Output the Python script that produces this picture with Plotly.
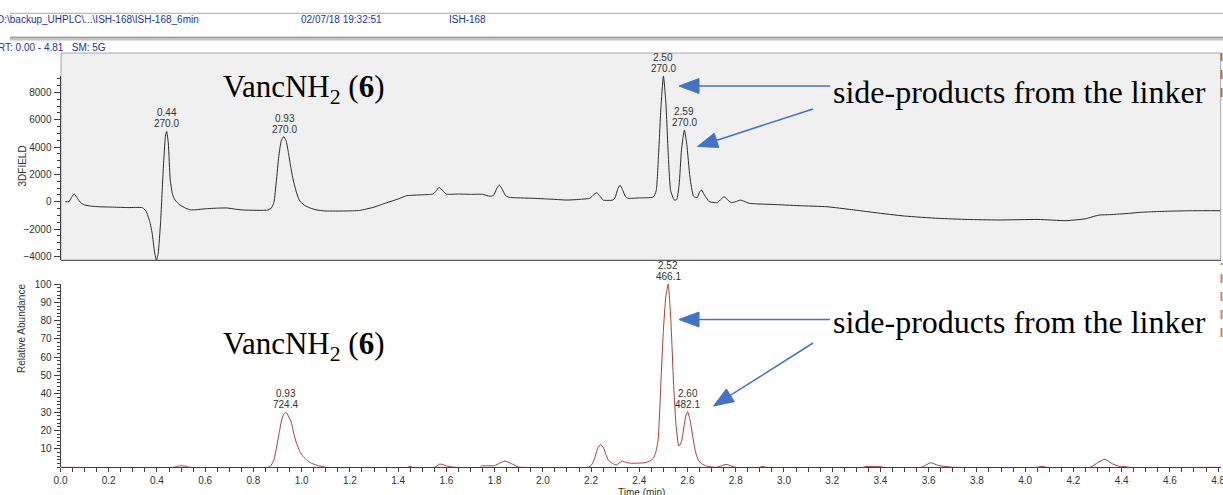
import math
import plotly.graph_objects as go

W, H = 1223, 495

# ---------------- data ----------------
top_time = [0.02, 0.035, 0.045, 0.057, 0.07, 0.085, 0.10, 0.13, 0.16, 0.22, 0.28, 0.34,
            0.355, 0.37, 0.38, 0.39, 0.398, 0.405, 0.415, 0.425, 0.435, 0.44, 0.447, 0.455,
            0.465, 0.475, 0.495, 0.52, 0.54, 0.56, 0.60, 0.65, 0.69, 0.73, 0.76, 0.86,
            0.875, 0.885, 0.895, 0.905, 0.915, 0.925, 0.935, 0.945, 0.955, 0.965, 0.978,
            0.99, 1.01, 1.035, 1.06, 1.10, 1.18, 1.24, 1.30, 1.34, 1.40, 1.435, 1.47,
            1.53, 1.545, 1.558, 1.57, 1.585, 1.60, 1.65, 1.70, 1.75, 1.78, 1.795, 1.81,
            1.82, 1.832, 1.845, 1.86, 1.96, 2.05, 2.10, 2.16, 2.195, 2.21, 2.223, 2.237,
            2.25, 2.29, 2.30, 2.31, 2.32, 2.33, 2.342, 2.354, 2.40, 2.458, 2.47, 2.48,
            2.49, 2.50, 2.51, 2.52, 2.53, 2.545, 2.555, 2.565, 2.575, 2.587, 2.597, 2.61,
            2.625, 2.64, 2.65, 2.658, 2.67, 2.69, 2.71, 2.724, 2.74, 2.752, 2.765, 2.782,
            2.80, 2.818, 2.835, 2.856, 2.95, 3.062, 3.178, 3.28, 3.377, 3.50, 3.64, 3.76,
            3.888, 4.053, 4.17, 4.25, 4.29, 4.31, 4.35, 4.434, 4.476, 4.55, 4.632, 4.70,
            4.81]
top_signal = [0, 0, 300, 560, 250, -100, -240, -330, -370, -400, -430, -440,
              -700, -1450, -2300, -3700, -4300, -3800, -1500, 2000, 4800, 5150, 4300, 1600,
              500, 120, -240, -480, -600, -590, -520, -470, -460, -560, -610, -610,
              -450, -50, 1500, 3300, 4450, 4770, 4500, 3600, 2500, 1590, 700,
              120, -250, -460, -600, -680, -680, -640, -400, -150, 200, 440, 480,
              530, 560, 800, 1050, 800, 560, 560, 540, 540, 400, 450, 1000,
              1220, 900, 450, 320, 250, 170, 120, 180, 250, 500, 660, 400,
              120, 120, 300, 900, 1200, 900, 400, 250, 280, 340, 800, 3500,
              7000, 9200, 7300, 3500, 800, 120, 150, 1200, 3800, 5250, 4200, 1800,
              400, 300, 700, 860, 500, 0, -60, -70, 200, 370, 150, -70,
              0, 120, 30, -120, -200, -290, -370, -580, -800, -1050, -1220, -1300,
              -1340, -1300, -1390, -1250, -1050, -975, -950, -850, -780, -720, -680, -660,
              -660]

bottom_time = [0.0, 0.47, 0.485, 0.50, 0.52, 0.535, 0.86, 0.87, 0.885, 0.896, 0.907, 0.917,
               0.926, 0.935, 0.945, 0.958, 0.968, 0.979, 0.993, 1.007, 1.025, 1.041, 1.065,
               1.09, 1.10, 1.44, 1.449, 1.458, 1.55, 1.573, 1.60, 1.62, 1.64, 1.74, 1.746,
               1.80, 1.82, 1.843, 1.87, 1.898, 1.91, 2.188, 2.202, 2.215, 2.228, 2.24, 2.252,
               2.262, 2.271, 2.29, 2.306, 2.318, 2.331, 2.345, 2.368, 2.40, 2.424, 2.445,
               2.458, 2.468, 2.478, 2.485, 2.49, 2.50, 2.51, 2.52, 2.53, 2.536, 2.542, 2.553,
               2.564, 2.575, 2.585, 2.593, 2.60, 2.61, 2.624, 2.634, 2.644, 2.66, 2.679, 2.70,
               2.72, 2.74, 2.76, 2.78, 2.80, 2.90, 2.91, 2.925, 3.33, 3.34, 3.40, 3.41, 3.57,
               3.608, 3.64, 3.68, 3.70, 4.05, 4.07, 4.09, 4.27, 4.30, 4.33, 4.36, 4.39, 4.41,
               4.43, 4.81]
bottom_abund = [0, 0, 0.6, 0.8, 0.6, 0, 0, 0.5, 4, 11, 19, 25.8,
                29, 30, 28, 24, 18, 13, 8.5, 5.8, 3.5, 2.2, 1,
                0.3, 0, 0, 0.5, 0, 0, 1.8, 0.8, 0.3, 0, 0, 0.7,
                0.9, 2.2, 3.4, 2, 0.2, 0, 0, 1.3, 5, 10.5, 12.5, 10.5,
                7, 4, 2, 1.3, 2.5, 3.4, 2.6, 2.2, 2.3, 2.5, 3.5,
                4.9, 8, 14.9, 32, 47.6, 75, 93, 100, 82, 65, 46, 22,
                11.6, 14, 22, 28, 30.3, 26, 14.9, 8, 4, 1.8, 0.7, 0.2,
                0, 0.8, 1.6, 0.8, 0, 0, 0.6, 0, 0, 0.4, 0.4, 0, 0,
                2.5, 1, 0.3, 0, 0, 0.5, 0, 0, 2.5, 4.4, 2, 0.5, 0.5,
                0, 0]

top_peak_rt = [0.44, 0.93, 2.50, 2.587]
top_peak_val = [5150, 4770, 9200, 5250]
top_peak_rt_lbl = ["0.44", "0.93", "2.50", "2.59"]
top_peak_mz_lbl = ["270.0", "270.0", "270.0", "270.0"]

bot_peak_rt = [0.935, 2.52, 2.60]
bot_peak_val = [30.0, 100.0, 30.3]
bot_peak_rt_lbl = ["0.93", "2.52", "2.60"]
bot_peak_mz_lbl = ["724.4", "466.1", "482.1"]

x_ticks = [0.0, 0.2, 0.4, 0.6, 0.8, 1.0, 1.2, 1.4, 1.6, 1.8, 2.0, 2.2, 2.4, 2.6, 2.8,
           3.0, 3.2, 3.4, 3.6, 3.8, 4.0, 4.2, 4.4, 4.6, 4.8]
top_y_ticks = [-4000, -2000, 0, 2000, 4000, 6000, 8000]
top_y_minor = [-4000 + 500 * i for i in range(27)]
bot_y_ticks = [10, 20, 30, 40, 50, 60, 70, 80, 90, 100]
bot_y_minor = [2 * i for i in range(51)]

# ---------------- layout geometry ----------------
def fx(x):
    return x / W

def fy(y):
    return 1 - y / H

X0, X1 = 60.5, 1220.5
TOP_Y0, TOP_Y1 = 53.0, 260.0
BOT_Y0, BOT_Y1 = 262.0, 467.3
top_range = [(201.7 - TOP_Y1) * 2000 / 27.3, (201.7 - TOP_Y0) * 2000 / 27.3]
bot_range = [0, (BOT_Y1 - BOT_Y0) / 1.833]

AX = "#404040"
TXT = "#333333"
BLUE = "#4472C4"
HDR = "#22359b"

fig = go.Figure()
fig.add_trace(go.Scatter(x=top_time, y=top_signal, mode="lines", xaxis="x2", yaxis="y2",
                         line=dict(color="#2b2b2b", width=1, shape="spline", smoothing=0.5),
                         hoverinfo="skip", showlegend=False))
fig.add_trace(go.Scatter(x=bottom_time, y=bottom_abund, mode="lines", xaxis="x", yaxis="y",
                         line=dict(color="#a83c3c", width=1, shape="spline", smoothing=0.5),
                         hoverinfo="skip", showlegend=False))

tickfont = dict(family="Liberation Sans, Arial", size=10, color=TXT)

fig.update_layout(
    width=W, height=H,
    margin=dict(l=0, r=0, t=0, b=0, autoexpand=False),
    paper_bgcolor="white", plot_bgcolor="rgba(0,0,0,0)",
    showlegend=False,
    xaxis=dict(domain=[fx(X0), fx(X1)], range=[0, 4.81], anchor="y", automargin=False,
               showgrid=False, zeroline=False, showline=True, linecolor=AX, linewidth=1,
               ticks="outside", ticklen=4, tickcolor=AX, tickvals=x_ticks,
               ticktext=[f"{v:.1f}" for v in x_ticks], tickfont=tickfont,
               ticklabeloverflow="allow",
               minor=dict(dtick=0.05, tick0=0, ticks="outside", ticklen=4, tickcolor=AX)),
    yaxis=dict(domain=[fy(BOT_Y1), fy(BOT_Y0)], range=bot_range, anchor="x", automargin=False,
               showgrid=False, zeroline=False, showline=False,
               ticks="outside", ticklen=6, tickcolor=AX, tickvals=bot_y_ticks,
               tickfont=tickfont, ticklabeloverflow="allow",
               minor=dict(tickmode="array", tickvals=bot_y_minor, ticks="outside",
                          ticklen=3, tickcolor=AX)),
    xaxis2=dict(domain=[fx(X0), fx(X1)], range=[0, 4.81], anchor="y2", matches="x",
                automargin=False,
                showgrid=False, zeroline=False, showline=True, linecolor="#5a5a5a",
                linewidth=1, showticklabels=False, ticks=""),
    yaxis2=dict(domain=[fy(TOP_Y1), fy(TOP_Y0)], range=top_range, anchor="x2", automargin=False,
                showgrid=False, zeroline=False, showline=False,
                ticks="outside", ticklen=6, tickcolor=AX, tickvals=top_y_ticks,
                tickfont=tickfont, ticklabeloverflow="allow",
                minor=dict(tickmode="array", tickvals=top_y_minor, ticks="outside",
                           ticklen=3, tickcolor=AX)),
)

shapes = []
# header lines
shapes.append(dict(type="line", xref="paper", yref="paper", x0=fx(10), x1=fx(W), y0=fy(13.3), y1=fy(13.3),
                   line=dict(color="#a8a8a8", width=1)))
shapes.append(dict(type="rect", xref="paper", yref="paper", x0=fx(10), x1=fx(W), y0=fy(40.5), y1=fy(37.0),
                   fillcolor="#c4c4c4", line=dict(width=0)))
shapes.append(dict(type="line", xref="paper", yref="paper", x0=fx(10), x1=fx(W), y0=fy(37.2), y1=fy(37.2),
                   line=dict(color="#8a8a8a", width=1)))
# top panel frame
shapes.append(dict(type="rect", xref="paper", yref="paper", layer="below",
                   x0=fx(61), x1=fx(1220.7), y0=fy(TOP_Y1), y1=fy(TOP_Y0),
                   fillcolor="#f0f0f0", line=dict(color="#a8a8a8", width=1)))
# y-axis lines (only over the tick span)
shapes.append(dict(type="line", xref="paper", yref="y2", x0=fx(X0), x1=fx(X0),
                   y0=top_range[0], y1=9200, line=dict(color=AX, width=1)))
shapes.append(dict(type="line", xref="paper", yref="y", x0=fx(X0), x1=fx(X0),
                   y0=0, y1=100, line=dict(color=AX, width=1)))
# clipped legend-like dashes at the right edge
shapes.append(dict(type="line", xref="paper", yref="paper", x0=fx(1221.5), x1=fx(1221.5),
                   y0=fy(97), y1=fy(53), line=dict(color="#b07040", width=2, dash="dash")))
shapes.append(dict(type="line", xref="paper", yref="paper", x0=fx(1221.5), x1=fx(1221.5),
                   y0=fy(337), y1=fy(263), line=dict(color="#d08850", width=2, dash="dash")))


def arrow(x0, y0, x1, y1, head_len=20, head_w=15):
    dx, dy = x1 - x0, y1 - y0
    L = math.hypot(dx, dy)
    ux, uy = dx / L, dy / L
    bx, by = x1 - ux * head_len, y1 - uy * head_len
    nx, ny = -uy, ux
    out = [dict(type="line", xref="paper", yref="paper", x0=fx(x0), y0=fy(y0), x1=fx(bx + ux * 2), y1=fy(by + uy * 2),
                line=dict(color=BLUE, width=1.5))]
    p1 = (bx + nx * head_w / 2, by + ny * head_w / 2)
    p2 = (bx - nx * head_w / 2, by - ny * head_w / 2)
    path = (f"M {fx(x1)} {fy(y1)} L {fx(p1[0])} {fy(p1[1])} "
            f"L {fx(p2[0])} {fy(p2[1])} Z")
    out.append(dict(type="path", xref="paper", yref="paper", path=path,
                    fillcolor=BLUE, line=dict(color=BLUE, width=1)))
    return out


shapes += arrow(830, 86, 679, 86)
shapes += arrow(813, 109, 697.5, 146.5)
shapes += arrow(830, 319.5, 679, 319.5)
shapes += arrow(813, 343, 713.5, 406)
fig.update_layout(shapes=shapes)

ann = []
hfont = dict(family="Liberation Sans, Arial", size=10, color=HDR)
ann.append(dict(xref="paper", yref="paper", x=fx(-5), y=fy(19.5), xanchor="left", yanchor="middle",
                text="D:\\backup_UHPLC\\...\\ISH-168\\ISH-168_6min", showarrow=False, font=hfont))
ann.append(dict(xref="paper", yref="paper", x=fx(299), y=fy(19.5), xanchor="left", yanchor="middle",
                text="02/07/18 19:32:51", showarrow=False, font=hfont))
ann.append(dict(xref="paper", yref="paper", x=fx(446.5), y=fy(19.5), xanchor="left", yanchor="middle",
                text="ISH-168", showarrow=False, font=hfont))
ann.append(dict(xref="paper", yref="paper", x=fx(-4), y=fy(47.3), xanchor="left", yanchor="middle",
                text="RT: 0.00 - 4.81\u00a0\u00a0 SM: 5G", showarrow=False, font=hfont))

afont = dict(family="Liberation Sans, Arial", size=10, color=TXT)
ann.append(dict(xref="paper", yref="paper", x=fx(15), y=fy(166), textangle=-90,
                text="3DFIELD", showarrow=False, font=afont))
ann.append(dict(xref="paper", yref="paper", x=fx(14), y=fy(375), textangle=-90,
                text="Relative Abundance", showarrow=False, font=afont))
ann.append(dict(xref="paper", yref="paper", x=fx(641), y=fy(492), yanchor="middle",
                text="Time (min)", showarrow=False, font=afont))

pfont = dict(family="Liberation Sans, Arial", size=10, color=TXT)
for t, v, a, b in zip(top_peak_rt, top_peak_val, top_peak_rt_lbl, top_peak_mz_lbl):
    ann.append(dict(xref="x2", yref="y2", x=t, y=v, yanchor="bottom", yshift=0,
                    text=b, showarrow=False, font=pfont))
    ann.append(dict(xref="x2", yref="y2", x=t, y=v, yanchor="bottom", yshift=11,
                    text=a, showarrow=False, font=pfont))
for t, v, a, b in zip(bot_peak_rt, bot_peak_val, bot_peak_rt_lbl, bot_peak_mz_lbl):
    ann.append(dict(xref="x", yref="y", x=t, y=v, yanchor="bottom", yshift=0,
                    text=b, showarrow=False, font=pfont))
    ann.append(dict(xref="x", yref="y", x=t, y=v, yanchor="bottom", yshift=11,
                    text=a, showarrow=False, font=pfont))

sfont = dict(family="Liberation Serif, Times New Roman", size=32, color="black")
vfont = dict(family="Liberation Serif, Times New Roman", size=31, color="black")
for yc_v, yc_s in [(89, 92), (346, 322)]:
    ann.append(dict(xref="paper", yref="paper", x=fx(221), y=fy(yc_v), xanchor="left", yanchor="middle",
                    text="VancNH<sub>2</sub> (<b>6</b>)", showarrow=False, font=vfont))
    ann.append(dict(xref="paper", yref="paper", x=fx(831), y=fy(yc_s), xanchor="left", yanchor="middle",
                    text="side-products from the linker", showarrow=False, font=sfont))

fig.update_layout(annotations=ann)
fig.write_html("out.html", config={"displayModeBar": False})
